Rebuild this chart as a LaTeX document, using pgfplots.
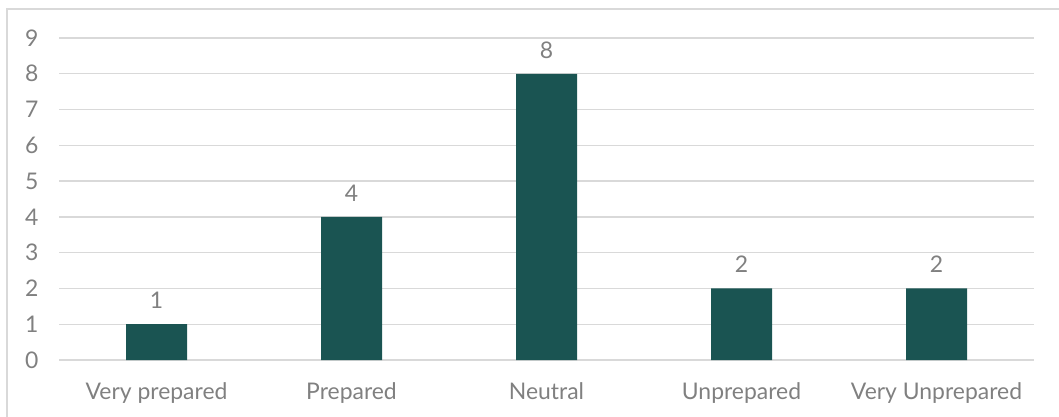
\documentclass[border=0pt]{standalone}
\usepackage{pgfplots}
\pgfplotsset{compat=1.18}
\usepackage{fontspec}
\setmainfont{Lato}
\definecolor{barcol}{RGB}{26,84,82}
\definecolor{txt}{RGB}{128,128,128}
\definecolor{gridc}{RGB}{217,217,217}
\definecolor{framec}{RGB}{217,217,217}
\begin{document}
\begin{tikzpicture}
\useasboundingbox (0,0) rectangle (1059bp,417bp);
\draw[framec, line width=1.5bp] (7bp,-20bp) rectangle (1080bp,408bp);
\begin{axis}[
  at={(59bp,57bp)}, anchor=south west,
  scale only axis, width=975bp, height=322bp,
  xmin=-0.5, xmax=4.5, ymin=0, ymax=9,
  axis line style={draw=none},
  major tick length=0pt,
  ytick={0,...,9},
  xtick={0,1,2,3,4},
  xticklabels={Very prepared, Prepared, Neutral, Unprepared, Very Unprepared},
  ymajorgrids, grid style={gridc, line width=1.3bp},
  tick label style={font=\fontsize{23}{27}\selectfont, text=txt},
  yticklabel style={xshift=-17bp},
  xticklabel style={yshift=-19bp},
  /pgf/number format/assume math mode=true,
  ybar, bar width=61bp,
  nodes near coords,
  nodes near coords style={font=\fontsize{23}{27}\selectfont, text=txt, yshift=12bp},
  clip=false,
]
\addplot[fill=barcol, draw=none] coordinates {(0,1) (1,4) (2,8) (3,2) (4,2)};
\end{axis}
\end{tikzpicture}
\end{document}
